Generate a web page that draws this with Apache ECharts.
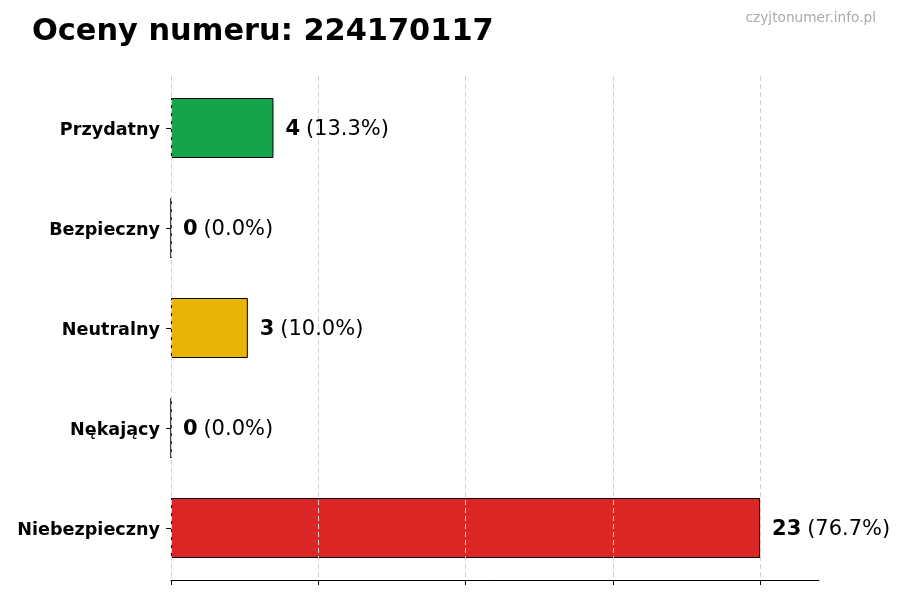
<!DOCTYPE html>
<html>
<head>
<meta charset="utf-8">
<script src="https://cdn.jsdelivr.net/npm/echarts@6/dist/echarts.min.js"></script>
<style>
  html, body { margin: 0; padding: 0; background: #fff; }
  #chart { width: 900px; height: 600px; }
</style>
</head>
<body>
<div id="chart"></div>
<script>
// data, top to bottom
var categories = ['Przydatny', 'Bezpieczny', 'Neutralny', 'Nękający', 'Niebezpieczny'];
var counts = [4, 0, 3, 0, 23];
var colors = ['#16a34a', '#16a34a', '#eab308', '#dc2626', '#dc2626'];
var titleText = 'Oceny numeru: 224170117';
var sourceText = 'czyjtonumer.info.pl';

var total = counts.reduce(function (a, b) { return a + b; }, 0);
var maxCount = Math.max.apply(null, counts);

var chart = echarts.init(document.getElementById('chart'));

chart.setOption({
  animation: false,
  textStyle: { fontFamily: 'DejaVu Sans' },
  title: [{
    text: titleText,
    left: 27, top: 12,
    textStyle: { fontSize: 30.4, fontWeight: 'bold', color: '#000', fontFamily: 'DejaVu Sans' }
  }, {
    text: sourceText,
    right: 19, top: 6,
    textStyle: { fontSize: 13.7, fontWeight: 'normal', color: '#aaaaaa', fontFamily: 'DejaVu Sans' }
  }],
  // grid 0 holds the bars and full axis line, grid 1 only carries ticks / grid lines up to the max value
  grid: [
    { left: 171, right: 81, top: 78, bottom: 22, containLabel: false },
    { left: 171, right: 140, top: 76, bottom: 20, containLabel: false }
  ],
  xAxis: [{
    type: 'value',
    gridIndex: 0,
    min: 0,
    max: maxCount * 1.1,
    offset: 2,
    axisLine: { show: true, lineStyle: { color: '#000', width: 1 } },
    axisTick: { show: false },
    axisLabel: { show: false },
    splitLine: { show: false }
  }, {
    type: 'value',
    gridIndex: 1,
    min: 0,
    max: maxCount,
    interval: maxCount / 4,
    z: 5,
    axisLine: { show: false },
    axisTick: { show: true, length: 5, lineStyle: { color: '#000' } },
    axisLabel: { show: false },
    splitLine: { show: true, lineStyle: { color: '#d0d0d0', type: [5, 3], width: 1 } }
  }],
  yAxis: [{
    type: 'category',
    gridIndex: 0,
    inverse: true,
    data: categories,
    axisLine: { show: false },
    axisTick: { show: true, length: 5, alignWithLabel: true, lineStyle: { color: '#000' } },
    axisLabel: {
      margin: 11,
      formatter: function (v) { return '{c|' + v + '}'; },
      rich: {
        c: {
          fontSize: 17.6, fontWeight: 'bold', color: '#000',
          fontFamily: 'DejaVu Sans', padding: [4, 0, 0, 0]
        }
      }
    }
  }, {
    type: 'value',
    gridIndex: 1,
    show: false
  }],
  series: [{
    // the coloured bars, below the dashed grid lines
    type: 'bar',
    xAxisIndex: 0,
    yAxisIndex: 0,
    barWidth: 60,
    z: 2,
    data: counts.map(function (v, i) {
      return { value: v, itemStyle: { color: colors[i] } };
    }),
    itemStyle: { borderColor: '#000', borderWidth: 1 }
  }, {
    // invisible twin that carries the value labels above the grid lines
    type: 'bar',
    xAxisIndex: 0,
    yAxisIndex: 0,
    barWidth: 60,
    barGap: '-100%',
    z: 6,
    silent: true,
    data: counts,
    itemStyle: { color: 'transparent', borderWidth: 0 },
    label: {
      show: true,
      position: 'right',
      distance: 12,
      offset: [0, 1.5],
      formatter: function (p) {
        var pct = (p.value / total * 100).toFixed(1);
        return '{b|' + p.value + '} {n|(' + pct + '%)}';
      },
      rich: {
        b: { fontSize: 21, fontWeight: 'bold', color: '#000', fontFamily: 'DejaVu Sans' },
        n: { fontSize: 21, color: '#000', fontFamily: 'DejaVu Sans', padding: [0, 0, 0, 2] }
      }
    }
  }]
});
</script>
</body>
</html>
